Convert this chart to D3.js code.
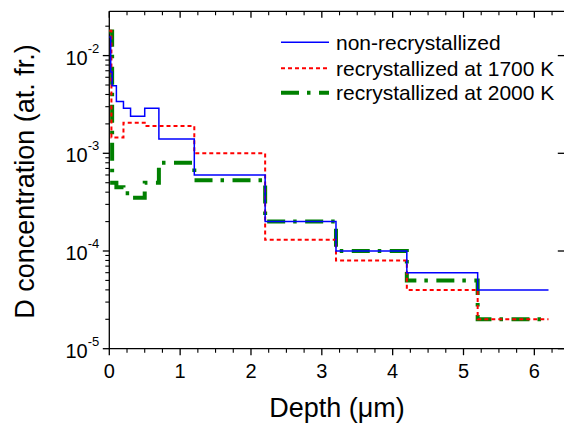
<!DOCTYPE html>
<html>
<head>
<meta charset="utf-8">
<script src="https://cdn.jsdelivr.net/npm/d3@7"></script>
<style>
  html, body { margin: 0; padding: 0; background: #fff; }
  svg { display: block; font-family: "Liberation Sans", Arial, sans-serif; }
</style>
</head>
<body>
<svg id="chart" width="564" height="427"></svg>
<script>
// ---- data ----
const seriesNames = ["non-recrystallized", "recrystallized at 1700 K", "recrystallized at 2000 K"];

const depthBlue = [0, 0.02, 0.04, 0.1, 0.2, 0.3, 0.5, 0.7, 1.2, 2.2, 3.2, 4.2, 5.2, 6.2];
const concBlue  = [0.0155, 0.0068, 0.0049, 0.0034, 0.0029, 0.0024, 0.0029, 0.0014, 6e-4, 2e-4, 1e-4, 6e-5, 4e-5, 4e-5];

const depthRed = [0, 0.03, 0.2, 0.5, 1.2, 2.2, 3.2, 4.2, 5.2, 6.2];
const concRed  = [0.018, 1.45e-3, 2.05e-3, 1.9e-3, 1e-3, 1.3e-4, 8e-5, 4e-5, 2e-5, 2e-5];

const depthGreen = [0, 0.04, 0.1, 0.2, 0.3, 0.5, 0.7, 1.2, 2.2, 3.2, 4.2, 5.2, 6.2];
const concGreen  = [0.0176, 5e-4, 4.5e-4, 3.9e-4, 3.5e-4, 5e-4, 8e-4, 5.3e-4, 2e-4, 1e-4, 5e-5, 2e-5, 2e-5];

const xTicks = [0, 1, 2, 3, 4, 5, 6];
const yTickExponents = [-5, -4, -3, -2];

const xTitle = "Depth (μm)";
const yTitle = "D concentration (at. fr.)";

// ---- layout ----
const svg = d3.select("#chart");
const pL = 109.3, pR = 564.8, pT = 11.3, pB = 348.7;
const x = d3.scaleLinear().domain([0, 6.43]).range([pL, pR]);
const y = d3.scaleLog().domain([1e-5, 0.02841]).range([pB, pT]);

const black = "#000";
const g = svg.append("g");

// minor tick values
const xMinor = d3.range(0, 6.42, 0.25).filter(v => Math.abs(v - Math.round(v)) > 1e-6);
const yMinor = [];
for (let e = -5; e <= -2; e++) for (let k = 2; k <= 9; k++) {
  const v = k * Math.pow(10, e);
  if (v < 0.02841) yMinor.push(v);
}

// axes lines
g.append("line").attr("x1", pL).attr("x2", pR + 1).attr("y1", pB).attr("y2", pB).attr("stroke", black).attr("stroke-width", 1.3);
g.append("line").attr("x1", pL).attr("x2", pR + 1).attr("y1", pT).attr("y2", pT).attr("stroke", black).attr("stroke-width", 1.3);
g.append("line").attr("x1", pL).attr("x2", pL).attr("y1", pT).attr("y2", pB + 0.6).attr("stroke", black).attr("stroke-width", 1.3);
g.append("line").attr("x1", pR).attr("x2", pR).attr("y1", pT).attr("y2", pB).attr("stroke", black).attr("stroke-width", 1.3);

// bottom ticks (outward)
g.selectAll(".xb").data(xTicks).enter().append("line")
  .attr("x1", d => x(d)).attr("x2", d => x(d)).attr("y1", pB).attr("y2", pB + 6.5)
  .attr("stroke", black).attr("stroke-width", 1.3);
g.selectAll(".xbm").data(xMinor).enter().append("line")
  .attr("x1", d => x(d)).attr("x2", d => x(d)).attr("y1", pB).attr("y2", pB + 4)
  .attr("stroke", black).attr("stroke-width", 1.1);
// top ticks (inward)
g.selectAll(".xt").data(xTicks).enter().append("line")
  .attr("x1", d => x(d)).attr("x2", d => x(d)).attr("y1", pT).attr("y2", pT + 6.5)
  .attr("stroke", black).attr("stroke-width", 1.3);
g.selectAll(".xtm").data(xMinor).enter().append("line")
  .attr("x1", d => x(d)).attr("x2", d => x(d)).attr("y1", pT).attr("y2", pT + 4)
  .attr("stroke", black).attr("stroke-width", 1.1);
// left ticks (outward)
g.selectAll(".yl").data(yTickExponents).enter().append("line")
  .attr("x1", pL - 6.5).attr("x2", pL).attr("y1", d => y(Math.pow(10, d))).attr("y2", d => y(Math.pow(10, d)))
  .attr("stroke", black).attr("stroke-width", 1.3);
g.selectAll(".ylm").data(yMinor).enter().append("line")
  .attr("x1", pL - 4).attr("x2", pL).attr("y1", d => y(d)).attr("y2", d => y(d))
  .attr("stroke", black).attr("stroke-width", 1.1);
// right ticks (inward)
g.selectAll(".yr").data(yTickExponents).enter().append("line")
  .attr("x1", pR - 7).attr("x2", pR).attr("y1", d => y(Math.pow(10, d))).attr("y2", d => y(Math.pow(10, d)))
  .attr("stroke", black).attr("stroke-width", 1.3);

// x tick labels
g.selectAll(".xl").data(xTicks).enter().append("text")
  .attr("x", d => x(d)).attr("y", pB + 29)
  .attr("text-anchor", "middle").attr("font-size", 20).attr("fill", black)
  .text(d => d);

// y tick labels 10^n
yTickExponents.forEach(e => {
  const t = g.append("text")
    .attr("x", pL - 10).attr("y", y(Math.pow(10, e)) + 9)
    .attr("text-anchor", "end").attr("font-size", 20).attr("fill", black);
  t.append("tspan").text("10");
  t.append("tspan").attr("font-size", 13).attr("dy", -12).text("-" + Math.abs(e));
});

// axis titles
svg.append("text").attr("x", 337).attr("y", 417)
  .attr("text-anchor", "middle").attr("font-size", 27).attr("fill", black).text(xTitle);
svg.append("text").attr("transform", "translate(33.5,181.5) rotate(-90)")
  .attr("text-anchor", "middle").attr("font-size", 27).attr("fill", black).text(yTitle);

// ---- series ----
const line = d3.line().x(d => x(d[0])).y(d => y(d[1])).curve(d3.curveStepAfter);
const series = [
  { name: seriesNames[2], depth: depthGreen, conc: concGreen, color: "#008000", width: 4, dash: "18,8,3.5,8.5" },
  { name: seriesNames[1], depth: depthRed, conc: concRed, color: "#ff0000", width: 2, dash: "4,3" },
  { name: seriesNames[0], depth: depthBlue, conc: concBlue, color: "#0000ff", width: 1.5, dash: null }
];
series.forEach(s => {
  const pts = s.depth.map((d, i) => [d, s.conc[i]]);
  svg.append("path").datum(pts).attr("d", line)
    .attr("fill", "none").attr("stroke", s.color).attr("stroke-width", s.width)
    .attr("stroke-dasharray", s.dash);
});

// ---- legend ----
const legendRows = [series[2], series[1], series[0]];
const legendY = [42.3, 68.3, 92.7];
legendRows.forEach((s, i) => {
  svg.append("line").attr("x1", 281).attr("x2", 329).attr("y1", legendY[i]).attr("y2", legendY[i])
    .attr("stroke", s.color).attr("stroke-width", s.width).attr("stroke-dasharray", s.dash);
  svg.append("text").attr("x", 336).attr("y", legendY[i] + 7.5)
    .attr("font-size", 21).attr("fill", black).text(s.name);
});
</script>
</body>
</html>
